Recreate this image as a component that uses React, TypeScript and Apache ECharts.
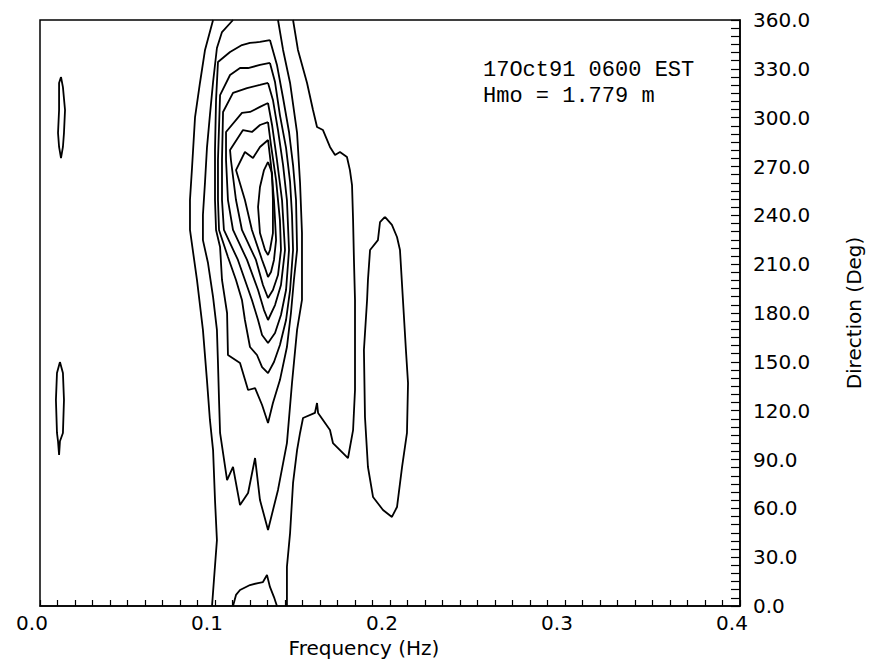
import React, { useEffect, useRef } from 'react';
import * as echarts from 'echarts';

// Axis tick labels
const freqLabels = ['0.0', '0.1', '0.2', '0.3', '0.4'];
const dirLabels = ['0.0', '30.0', '60.0', '90.0', '120.0', '150.0', '180.0', '210.0', '240.0', '270.0', '300.0', '330.0', '360.0'];

// Contour traces: [frequency (Hz), direction (deg)]
const outerLeft = [[0.0989, 360], [0.0943, 341.6], [0.0914, 321.3], [0.0886, 300.4], [0.0869, 269.7], [0.0857, 249.4], [0.0857, 231.0], [0.0897, 200.3], [0.0931, 169.6], [0.0954, 138.8], [0.0971, 114.3], [0.0989, 95.8], [0.1, 65.1], [0.1011, 40.5], [0.0994, 16.0], [0.0983, 0]];
const outerRight = [[0.1446, 360], [0.1474, 341.6], [0.1526, 321.3], [0.156, 304.7], [0.1583, 294.3], [0.1617, 292.4], [0.1657, 282.0], [0.1686, 277.1], [0.1714, 278.9], [0.1754, 275.8], [0.1771, 267.8], [0.1783, 258.6], [0.1789, 237.1], [0.1794, 212.6], [0.18, 188.0], [0.18, 157.3], [0.18, 132.7], [0.1789, 108.1], [0.176, 90.9], [0.1674, 100.1], [0.1657, 108.1], [0.1589, 118.6], [0.1583, 124.7], [0.1571, 118.6], [0.1503, 115.5], [0.1486, 106.3], [0.1469, 95.8], [0.1446, 75.6], [0.1429, 44.8], [0.1411, 24.0], [0.1411, 0]];
const level2 = [[0.1103, 360], [0.104, 352.6], [0.1011, 342.8], [0.0989, 321.9], [0.0971, 301.6], [0.0954, 281.4], [0.0943, 260.5], [0.0931, 240.2], [0.0931, 224.8], [0.096, 210.7], [0.0989, 189.8], [0.1011, 169.6], [0.1017, 149.3], [0.1023, 126.6], [0.1029, 106.3], [0.1069, 77.4], [0.1103, 85.4], [0.1143, 62.0], [0.1189, 69.4], [0.1229, 90.9], [0.1257, 65.1], [0.1303, 46.7], [0.136, 71.3], [0.1411, 100.1], [0.144, 137.0], [0.1469, 169.6], [0.1497, 188.0], [0.1497, 229.1], [0.1486, 259.9], [0.1469, 290.6], [0.1429, 321.3], [0.1389, 341.6], [0.136, 360]];
const level3 = [[0.1314, 347.7], [0.1354, 332.4], [0.1389, 312.1], [0.1423, 291.2], [0.1446, 270.9], [0.1463, 249.4], [0.1469, 218.7], [0.1451, 200.3], [0.1434, 180.0], [0.1411, 159.1], [0.1371, 138.8], [0.1331, 124.7], [0.1303, 112.4], [0.1269, 123.5], [0.1229, 133.9], [0.1189, 132.7], [0.1143, 149.3], [0.1074, 154.2], [0.1069, 180.0], [0.104, 200.3], [0.1029, 220.5], [0.1006, 231.0], [0.1, 249.4], [0.1, 280.1], [0.1006, 310.9], [0.1017, 334.2], [0.1086, 340.3], [0.1154, 344.6], [0.12, 345.9], [0.1257, 346.5], [0.1314, 347.7]];
const level4 = [[0.1314, 333.6], [0.1343, 321.9], [0.1371, 301.6], [0.1406, 281.4], [0.1429, 260.5], [0.144, 240.2], [0.1446, 218.7], [0.1429, 194.1], [0.1406, 175.7], [0.1371, 160.3], [0.1337, 149.9], [0.1303, 143.1], [0.1269, 146.8], [0.124, 154.2], [0.12, 159.1], [0.1171, 175.7], [0.1154, 188.0], [0.112, 200.3], [0.1074, 214.4], [0.1023, 231.0], [0.1017, 249.4], [0.1017, 274.0], [0.1029, 313.9], [0.1086, 326.2], [0.1143, 330.5], [0.1189, 330.5], [0.1257, 332.4], [0.1314, 333.6]];
const level5 = [[0.1303, 321.3], [0.1331, 310.9], [0.136, 292.4], [0.1389, 270.9], [0.1411, 249.4], [0.1423, 218.7], [0.1406, 194.1], [0.1377, 178.8], [0.1343, 167.7], [0.1303, 161.6], [0.1269, 166.5], [0.1246, 175.7], [0.1211, 188.0], [0.1171, 200.3], [0.1131, 212.6], [0.1051, 231.0], [0.104, 249.4], [0.104, 274.0], [0.1046, 303.5], [0.1103, 315.2], [0.1183, 318.2], [0.1257, 320.1], [0.1303, 321.3]];
const level6 = [[0.1303, 309.0], [0.1326, 295.5], [0.1354, 274.0], [0.1383, 249.4], [0.14, 218.7], [0.1377, 197.2], [0.1343, 184.9], [0.1303, 175.7], [0.128, 181.8], [0.1246, 194.1], [0.1183, 212.6], [0.1103, 231.0], [0.1074, 249.4], [0.1063, 274.0], [0.1063, 291.2], [0.1154, 302.9], [0.12, 303.5], [0.1257, 306.6], [0.1303, 309.0]];
const level7 = [[0.1303, 297.3], [0.132, 283.2], [0.1349, 261.7], [0.1371, 237.1], [0.1377, 218.7], [0.136, 203.3], [0.1331, 194.1], [0.1303, 189.2], [0.1274, 197.2], [0.1234, 212.6], [0.1154, 231.0], [0.112, 249.4], [0.1091, 274.0], [0.1086, 280.1], [0.116, 292.4], [0.1211, 291.2], [0.1257, 295.5], [0.1303, 297.3]];
const level8 = [[0.1303, 286.3], [0.132, 270.9], [0.1337, 249.4], [0.1349, 224.8], [0.1337, 212.6], [0.132, 205.2], [0.1303, 202.1], [0.1286, 207.6], [0.1269, 212.6], [0.1211, 231.0], [0.1171, 249.4], [0.112, 267.8], [0.1171, 278.9], [0.1217, 275.2], [0.1257, 282.0], [0.1303, 286.3]];
const level9 = [[0.1303, 272.8], [0.1326, 266.0], [0.1331, 249.4], [0.1331, 229.1], [0.1314, 218.7], [0.1303, 215.6], [0.1286, 218.7], [0.1257, 229.1], [0.1246, 245.1], [0.1257, 257.4], [0.128, 267.8], [0.1303, 272.8]];
const bottomBlob = [[0.1103, 0], [0.112, 6.8], [0.1143, 9.8], [0.12, 12.9], [0.1246, 14.1], [0.1274, 14.7], [0.1297, 19.0], [0.1314, 11.7], [0.1337, 5.5], [0.1354, 0]];
const lowFreqUpper = [[0.012, 325.0], [0.0131, 318.8], [0.0143, 304.7], [0.0137, 290.6], [0.0131, 282.0], [0.012, 275.2], [0.0109, 282.0], [0.0103, 290.6], [0.0109, 304.7], [0.0109, 321.3], [0.012, 325.0]];
const lowFreqLower = [[0.0114, 149.9], [0.0131, 143.1], [0.0137, 126.6], [0.0131, 106.3], [0.0114, 101.2], [0.0109, 92.8], [0.0103, 101.2], [0.0097, 106.3], [0.0091, 126.6], [0.0097, 143.1], [0.0114, 149.9]];
const secondaryPeak = [[0.1971, 239.0], [0.2011, 234.1], [0.204, 226.7], [0.2057, 218.7], [0.2074, 188.0], [0.2091, 157.3], [0.2103, 137.0], [0.2097, 106.3], [0.2069, 85.4], [0.204, 60.8], [0.2011, 54.7], [0.196, 59.0], [0.1903, 67.0], [0.1874, 85.4], [0.1857, 116.1], [0.1851, 157.3], [0.1869, 188.0], [0.1874, 200.3], [0.1886, 218.7], [0.1931, 224.8], [0.1943, 235.9], [0.1971, 239.0]];

const contours: [string, number[][]][] = [
  ['outerLeft', outerLeft],
  ['outerRight', outerRight],
  ['level2', level2],
  ['level3', level3],
  ['level4', level4],
  ['level5', level5],
  ['level6', level6],
  ['level7', level7],
  ['level8', level8],
  ['level9', level9],
  ['bottomBlob', bottomBlob],
  ['lowFreqUpper', lowFreqUpper],
  ['lowFreqLower', lowFreqLower],
  ['secondaryPeak', secondaryPeak],
];

const titleLine1 = '17Oct91 0600 EST';
const titleLine2 = 'Hmo = 1.779 m';

const SANS = '"DejaVu Sans", sans-serif';
const MONO = '"Liberation Mono", "DejaVu Sans Mono", monospace';

export default function App() {
  const ref = useRef<HTMLDivElement>(null);
  useEffect(() => {
    if (!ref.current) return;
    const chart = echarts.init(ref.current, undefined, { renderer: 'svg' });
    const black = '#000';
    chart.setOption({
      animation: false,
      backgroundColor: '#fff',
      textStyle: { fontFamily: SANS },
      grid: { left: 40, right: 140, top: 20, bottom: 57, show: true, borderColor: black, borderWidth: 1.5, backgroundColor: 'transparent' },
      xAxis: {
        type: 'value',
        min: 0,
        max: 0.4,
        interval: 0.1,
        name: 'Frequency (Hz)',
        nameLocation: 'middle',
        nameGap: 28,
        nameTextStyle: { color: black, fontSize: 20, fontFamily: SANS, padding: [0, 52, 0, 0] },
        axisLine: { show: true, onZero: false, lineStyle: { color: black, width: 1.5 } },
        axisTick: { show: true, inside: true, length: 6, lineStyle: { color: black, width: 1.2 } },
        minorTick: { show: true, splitNumber: 10, length: 6, lineStyle: { color: black, width: 1.2 } },
        splitLine: { show: false },
        axisLabel: {
          color: black,
          fontSize: 20,
          fontFamily: SANS,
          margin: 7,
          padding: [0, 16, 0, 0],
          formatter: (_v: number, i: number) => freqLabels[i] ?? '',
        },
      },
      yAxis: {
        type: 'value',
        position: 'right',
        min: 0,
        max: 360,
        interval: 30,
        name: 'Direction (Deg)',
        nameLocation: 'middle',
        nameRotate: 90,
        nameGap: 104,
        nameTextStyle: { color: black, fontSize: 20, fontFamily: SANS },
        axisLine: { show: true, onZero: false, lineStyle: { color: black, width: 1.5 } },
        axisTick: { show: true, inside: true, length: 9, lineStyle: { color: black, width: 1.2 } },
        minorTick: { show: true, splitNumber: 6, length: 9, lineStyle: { color: black, width: 1.2 } },
        splitLine: { show: false },
        axisLabel: {
          color: black,
          fontSize: 20,
          fontFamily: SANS,
          margin: 13,
          verticalAlign: 'middle',
          lineHeight: 26,
          padding: [6, 0, 0, 0],
          formatter: (_v: number, i: number) => dirLabels[i] ?? '',
        },
      },
      graphic: [
        {
          type: 'text',
          x: 483,
          y: 70,
          style: { text: titleLine1, fill: black, font: `22px ${MONO}`, verticalAlign: 'middle', align: 'left' },
        },
        {
          type: 'text',
          x: 483,
          y: 96,
          style: { text: titleLine2, fill: black, font: `22px ${MONO}`, verticalAlign: 'middle', align: 'left' },
        },
      ],
      series: contours.map(([name, data]) => ({
        type: 'line',
        name,
        data,
        showSymbol: false,
        symbol: 'none',
        silent: true,
        clip: true,
        lineStyle: { color: black, width: 1.8 },
        z: 3,
      })),
    });
    return () => chart.dispose();
  }, []);
  return <div ref={ref} style={{ position: 'fixed', left: 0, top: 0, width: 880, height: 663 }} />;
}
